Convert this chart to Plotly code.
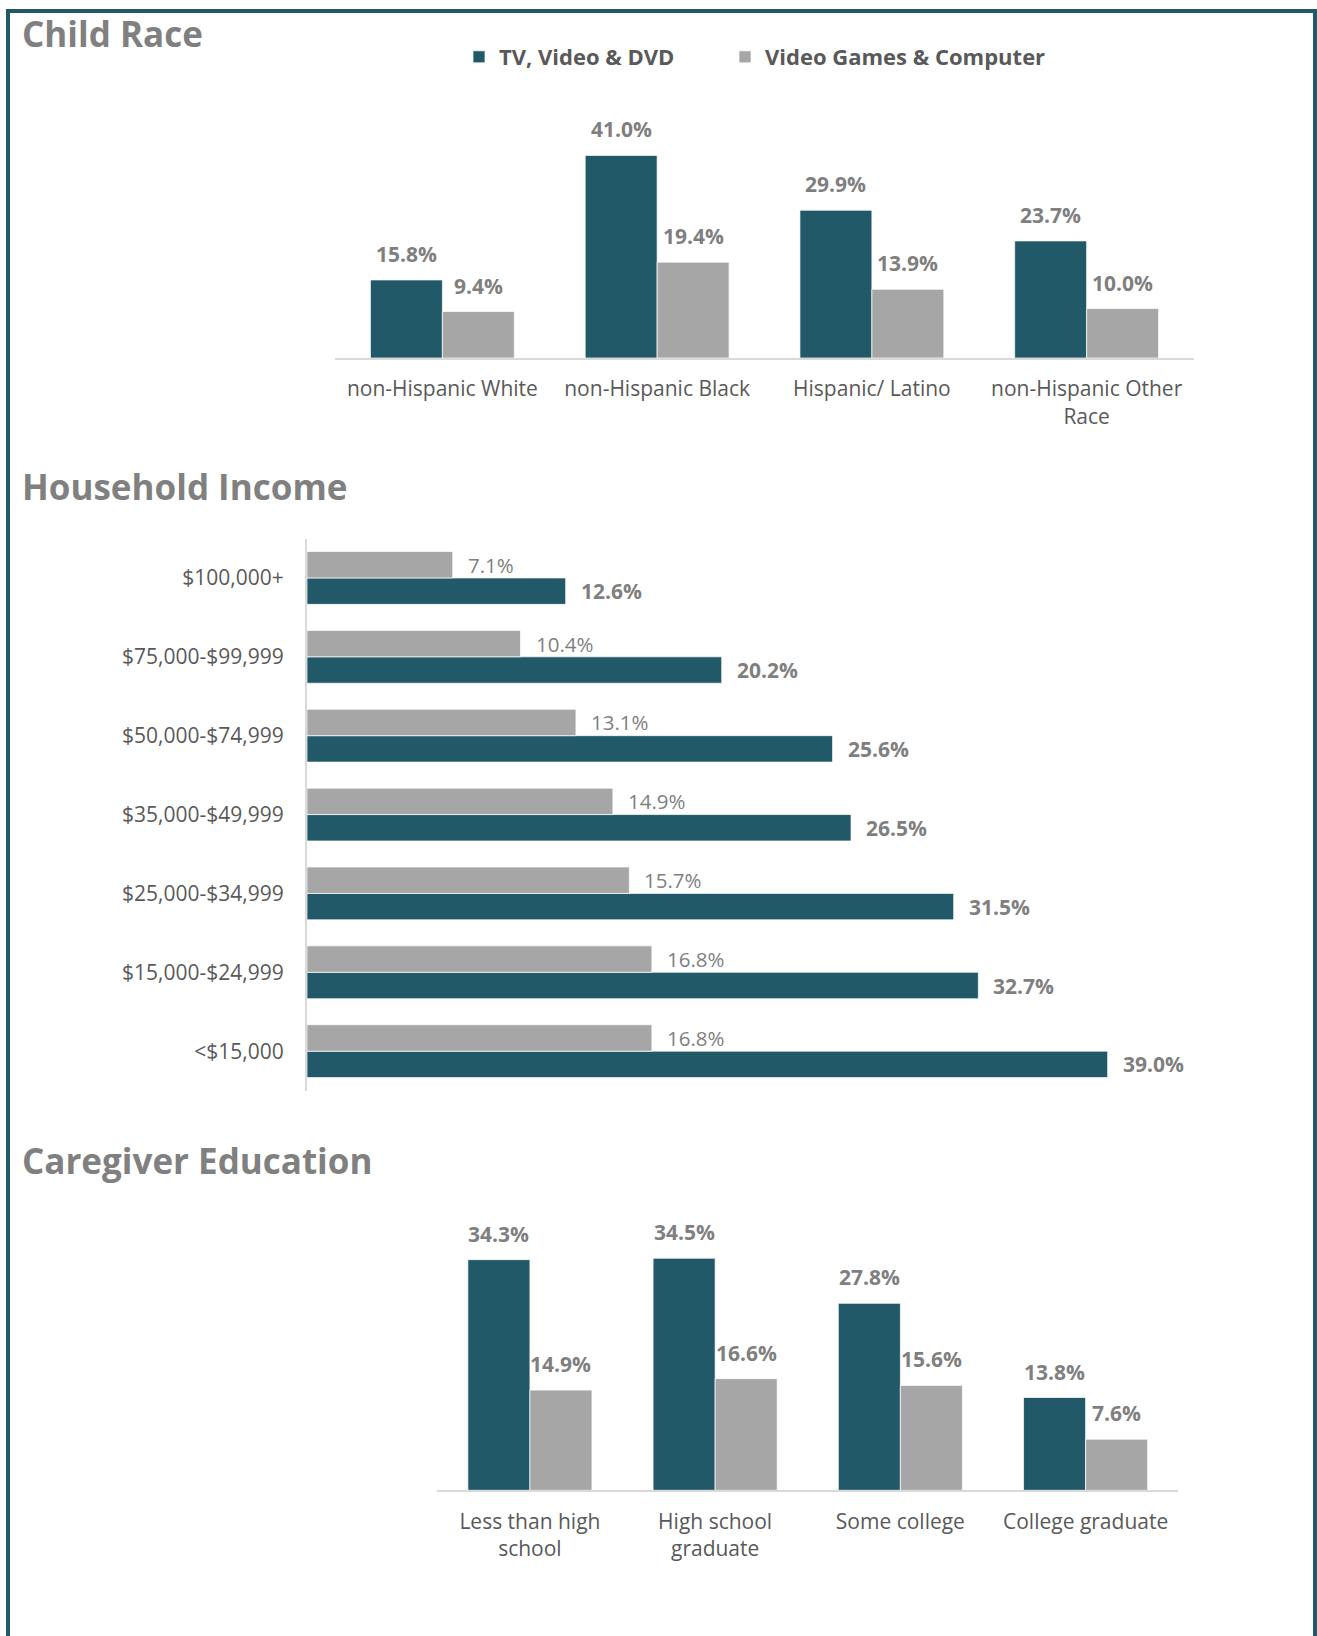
import plotly.graph_objects as go

# Canvas size (px)
W, H = 1317, 1636

SERIES = ["TV, Video & DVD", "Video Games & Computer"]
TEAL = "#215968"
GREY = "#A6A6A6"

# Child race
race_cats = ["non-Hispanic White", "non-Hispanic Black", "Hispanic/ Latino",
             "non-Hispanic Other<br>Race"]
race_tv = [15.8, 41.0, 29.9, 23.7]
race_games = [9.4, 19.4, 13.9, 10.0]

# Household income (bottom to top)
income_cats = ["<$15,000", "$15,000-$24,999", "$25,000-$34,999", "$35,000-$49,999",
               "$50,000-$74,999", "$75,000-$99,999", "$100,000+"]
income_tv = [39.0, 32.7, 31.5, 26.5, 25.6, 20.2, 12.6]
income_games = [16.8, 16.8, 15.7, 14.9, 13.1, 10.4, 7.1]

# Caregiver education
edu_cats = ["Less than high<br>school", "High school<br>graduate", "Some college",
            "College graduate"]
edu_tv = [34.3, 34.5, 27.8, 13.8]
edu_games = [14.9, 16.6, 15.6, 7.6]

FONT = "Open Sans"
TITLE_GREY = "#808080"
LABEL_GREY = "#7F7F7F"
TEXT_DARK = "#595959"
AXIS_LINE = "#D9D9D9"
BARGAP = 0.33
OFF = (1 - BARGAP) / 4  # centre offset of each bar within its group


def px_x(x):
    return x / W


def px_y(y):
    return 1 - y / H


fig = go.Figure()

bar_line = dict(color="rgba(255,255,255,0.7)", width=1)

# --- Child Race (vertical grouped bars); each series gets its own legend box
fig.add_trace(go.Bar(x=race_cats, y=race_tv, name=SERIES[0], marker=dict(color=TEAL, line=bar_line),
                     xaxis="x", yaxis="y", legendgroup="tv", legend="legend"))
fig.add_trace(go.Bar(x=race_cats, y=race_games, name=SERIES[1], marker=dict(color=GREY, line=bar_line),
                     xaxis="x", yaxis="y", legendgroup="vg", legend="legend2"))

# --- Household Income (horizontal grouped bars)
fig.add_trace(go.Bar(y=income_cats, x=income_tv, orientation="h", name=SERIES[0],
                     marker=dict(color=TEAL, line=bar_line), xaxis="x2", yaxis="y2",
                     legendgroup="tv", showlegend=False))
fig.add_trace(go.Bar(y=income_cats, x=income_games, orientation="h", name=SERIES[1],
                     marker=dict(color=GREY, line=bar_line), xaxis="x2", yaxis="y2",
                     legendgroup="vg", showlegend=False))

# --- Caregiver Education (vertical grouped bars)
fig.add_trace(go.Bar(x=edu_cats, y=edu_tv, name=SERIES[0], marker=dict(color=TEAL, line=bar_line),
                     xaxis="x3", yaxis="y3", legendgroup="tv", showlegend=False))
fig.add_trace(go.Bar(x=edu_cats, y=edu_games, name=SERIES[1], marker=dict(color=GREY, line=bar_line),
                     xaxis="x3", yaxis="y3", legendgroup="vg", showlegend=False))

annotations = []

bold_lbl = dict(family=FONT, size=21, color=LABEL_GREY, weight="bold")
reg_lbl = dict(family=FONT, size=20.5, color=LABEL_GREY)

# value labels above vertical bars
for xa, ya, tv, vg in (("x", "y", race_tv, race_games), ("x3", "y3", edu_tv, edu_games)):
    for i, (a, b) in enumerate(zip(tv, vg)):
        annotations.append(dict(x=i - OFF, y=a, xref=xa, yref=ya, text=f"{a:.1f}%",
                                showarrow=False, yanchor="middle", yshift=26, font=bold_lbl))
        annotations.append(dict(x=i + OFF, y=b, xref=xa, yref=ya, text=f"{b:.1f}%",
                                showarrow=False, yanchor="middle", yshift=26, font=bold_lbl))

# value labels to the right of horizontal bars
for i, (a, b) in enumerate(zip(income_tv, income_games)):
    annotations.append(dict(x=a, y=i - OFF, xref="x2", yref="y2", text=f"{a:.1f}%",
                            showarrow=False, xanchor="left", xshift=13, font=bold_lbl))
    annotations.append(dict(x=b, y=i + OFF, xref="x2", yref="y2", text=f"{b:.1f}%",
                            showarrow=False, xanchor="left", xshift=13, yshift=0, font=reg_lbl))

# section titles
for text, yc in (("Child Race", 33), ("Household Income", 486), ("Caregiver Education", 1160)):
    annotations.append(dict(x=px_x(20), y=px_y(yc), xref="paper", yref="paper", text=text,
                            showarrow=False, xanchor="left", yanchor="middle",
                            font=dict(family=FONT, size=35, color=TITLE_GREY, weight="bold")))

tick_font = dict(family=FONT, size=21, color=TEXT_DARK)
hidden = dict(visible=False, showgrid=False, zeroline=False)
legend_font = dict(family=FONT, size=22, color=TEXT_DARK, weight="bold")

fig.update_layout(
    width=W, height=H, autosize=False,
    margin=dict(l=0, r=0, t=0, b=0, pad=0),
    paper_bgcolor="white", plot_bgcolor="white",
    barmode="group", bargap=BARGAP, bargroupgap=0,
    font=dict(family=FONT, color=TEXT_DARK),
    showlegend=True,
    legend=dict(orientation="h", x=px_x(459), y=px_y(57), xanchor="left", yanchor="middle",
                font=legend_font, bgcolor="rgba(0,0,0,0)",
                itemclick=False, itemdoubleclick=False),
    legend2=dict(orientation="h", x=px_x(725), y=px_y(57), xanchor="left", yanchor="middle",
                 font=legend_font, bgcolor="rgba(0,0,0,0)",
                 itemclick=False, itemdoubleclick=False),
    xaxis=dict(domain=[px_x(335), px_x(1194)], anchor="y", showline=True, linecolor=AXIS_LINE,
               linewidth=2, ticks="", showgrid=False, tickfont=tick_font, ticklabelstandoff=11,
               fixedrange=True),
    yaxis=dict(domain=[px_y(358), px_y(135.7)], anchor="x", range=[0, 45], **hidden),
    xaxis2=dict(domain=[px_x(307), px_x(307 + 42 * 20.53)], anchor="y2", range=[0, 42], **hidden),
    yaxis2=dict(domain=[px_y(1090.6), px_y(538.5)], anchor="x2", showline=True, linecolor=AXIS_LINE,
                linewidth=2, ticks="", showgrid=False, zeroline=False, tickfont=tick_font,
                ticklabelstandoff=17, categoryorder="array", categoryarray=income_cats),
    xaxis3=dict(domain=[px_x(437.3), px_x(1178.2)], anchor="y3", showline=True, linecolor=AXIS_LINE,
                linewidth=2, ticks="", showgrid=False, tickfont=tick_font, ticklabelstandoff=11),
    yaxis3=dict(domain=[px_y(1490.3), px_y(1221.3)], anchor="x3", range=[0, 40], **hidden),
    annotations=annotations,
    shapes=[dict(type="rect", xref="paper", yref="paper", x0=px_x(8), x1=px_x(1315),
                 y0=px_y(11), y1=-0.05, line=dict(color=TEAL, width=4),
                 fillcolor="rgba(0,0,0,0)", layer="above")],
)

fig.write_html("out.html", config={"displayModeBar": False})
